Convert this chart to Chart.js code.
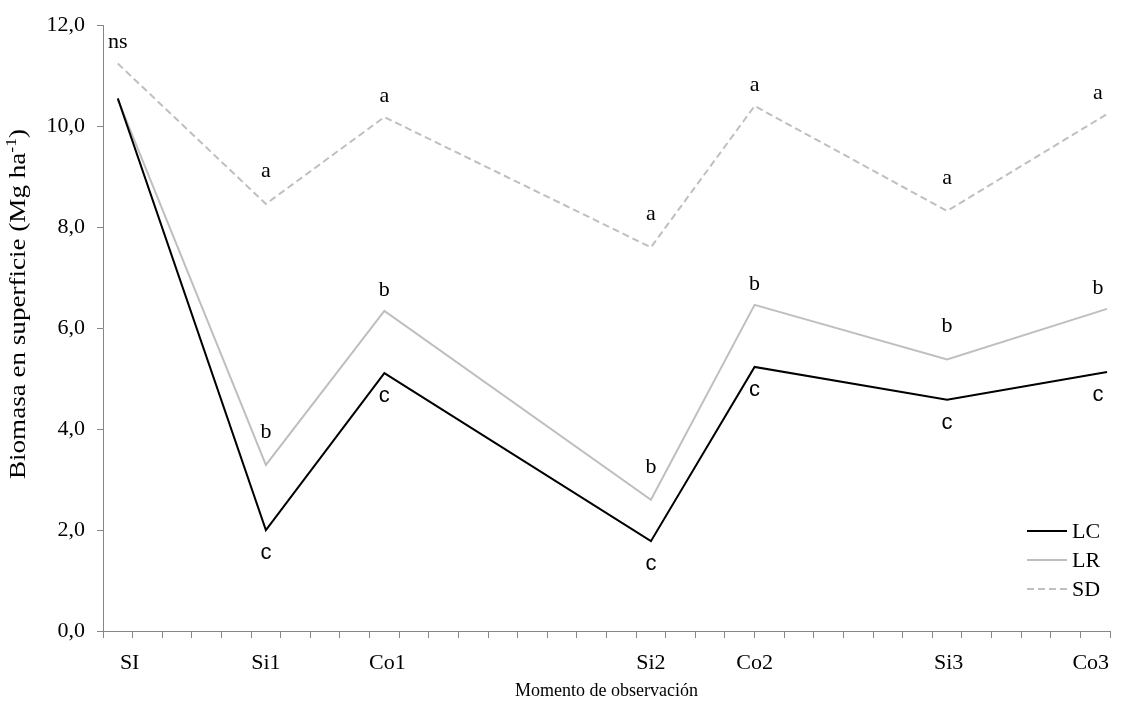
<!DOCTYPE html>
<html>
<head>
<meta charset="utf-8">
<script src="https://cdn.jsdelivr.net/npm/chart.js@4.4.1/dist/chart.umd.min.js"></script>
<style>
  html, body { margin: 0; padding: 0; background: #fff; }
</style>
</head>
<body>
<canvas id="biomasa" width="1125" height="702"></canvas>
<script>
// Momentos de observación sobre el eje temporal
const momentos = ['SI', 'Si1', 'Co1', 'Si2', 'Co2', 'Si3', 'Co3'];
const posMomentos = [0.5, 5.5, 9.5, 18.5, 22, 28.5, 33.9];
const posEtiquetas = [0.9, 5.5, 9.6, 18.5, 22, 28.55, 33.35];

// Biomasa en superficie (Mg ha-1) por tratamiento
const lc = [10.55, 2.0, 5.11, 1.78, 5.23, 4.58, 5.13];
const lr = [10.53, 3.29, 6.34, 2.6, 6.46, 5.38, 6.38];
const sd = [11.24, 8.46, 10.18, 7.6, 10.4, 8.32, 10.24];

// Letras de comparación de medias
const letrasLC = ['', 'c', 'c', 'c', 'c', 'c', 'c'];
const letrasLR = ['', 'b', 'b', 'b', 'b', 'b', 'b'];
const letrasSD = ['ns', 'a', 'a', 'a', 'a', 'a', 'a'];

const serif = '"Liberation Serif", "Times New Roman", serif';
const sans = '"Liberation Sans", Arial, sans-serif';
const gris = '#bfbfbf';
const ejeColor = '#868686';

function puntos(valores) {
  return valores.map((v, i) => ({ x: posMomentos[i], y: v }));
}

// letras, leyenda, nombres de momentos y títulos de ejes
const anotaciones = {
  id: 'anotaciones',
  afterDatasetsDraw(chart) {
    const { ctx, chartArea, scales } = chart;
    ctx.save();
    ctx.fillStyle = '#000';
    ctx.textAlign = 'center';
    ctx.textBaseline = 'middle';
    chart.data.datasets.forEach(ds => {
      ctx.font = '22px ' + ds.fuenteLetras;
      ds.data.forEach((p, i) => {
        const txt = ds.letras[i];
        if (!txt) return;
        let px = scales.x.getPixelForValue(p.x);
        const py = scales.y.getPixelForValue(p.y);
        px = Math.min(px, chartArea.right - 12);
        let dy;
        if (ds.lado === 'abajo') {
          dy = 23;
        } else {
          const prev = ds.data[i - 1], next = ds.data[i + 1];
          const valle = prev && next && p.y < prev.y && p.y < next.y;
          // los valles poco profundos quedan más cerca de la línea
          const hondo = valle && (next.x - p.x) < 6;
          dy = hondo ? -33 : -21;
        }
        ctx.fillText(txt, px, py + dy);
      });
    });
    ctx.restore();
  },
  afterDraw(chart) {
    const { ctx, chartArea, scales } = chart;
    ctx.save();
    ctx.fillStyle = '#000';

    // nombres de los momentos
    ctx.font = '22px ' + serif;
    ctx.textAlign = 'center';
    ctx.textBaseline = 'alphabetic';
    momentos.forEach((m, i) => {
      ctx.fillText(m, scales.x.getPixelForValue(posEtiquetas[i]), chartArea.bottom + 38);
    });

    // título eje x
    ctx.font = '18px ' + serif;
    ctx.fillText('Momento de observación', (chartArea.left + chartArea.right) / 2, chartArea.bottom + 65);

    // título eje y con superíndice, estirado a lo largo
    ctx.translate(25, 304);
    ctx.rotate(-Math.PI / 2);
    const base = 'Biomasa en superficie (Mg ha';
    ctx.font = '23px ' + serif;
    const w1 = ctx.measureText(base).width;
    ctx.font = '15px ' + serif;
    const w2 = ctx.measureText('-1').width;
    ctx.font = '23px ' + serif;
    const w3 = ctx.measureText(')').width;
    const total = w1 + w2 + w3;
    ctx.scale(350 / total, 1);
    const x0 = -total / 2;
    ctx.textAlign = 'left';
    ctx.fillText(base, x0, 0);
    ctx.font = '15px ' + serif;
    ctx.fillText('-1', x0 + w1, -9);
    ctx.font = '23px ' + serif;
    ctx.fillText(')', x0 + w1 + w2, 0);
    ctx.restore();

    // leyenda
    ctx.save();
    ctx.font = '22px ' + serif;
    ctx.textAlign = 'left';
    ctx.textBaseline = 'middle';
    chart.data.datasets.forEach((ds, i) => {
      const y = chartArea.bottom - 100 + i * 29;
      ctx.strokeStyle = ds.borderColor;
      ctx.lineWidth = ds.borderWidth;
      ctx.setLineDash(ds.borderDash || []);
      ctx.beginPath();
      ctx.moveTo(chartArea.right - 83, y);
      ctx.lineTo(chartArea.right - 43, y);
      ctx.stroke();
      ctx.fillStyle = '#000';
      ctx.fillText(ds.label, chartArea.right - 38, y + 1);
    });
    ctx.restore();
  }
};

const ctx = document.getElementById('biomasa').getContext('2d');
const grafico = new Chart(ctx, {
  type: 'line',
  data: {
    datasets: [
      { label: 'LC', data: puntos(lc), borderColor: '#000000', borderWidth: 2,
        letras: letrasLC, lado: 'abajo', fuenteLetras: sans },
      { label: 'LR', data: puntos(lr), borderColor: gris, borderWidth: 2,
        letras: letrasLR, lado: 'arriba', fuenteLetras: serif },
      { label: 'SD', data: puntos(sd), borderColor: gris, borderWidth: 2, borderDash: [7, 4],
        letras: letrasSD, lado: 'arriba', fuenteLetras: serif }
    ]
  },
  options: {
    responsive: false,
    animation: false,
    devicePixelRatio: 1,
    elements: { point: { radius: 0 }, line: { tension: 0 } },
    layout: { padding: { left: 0, right: 15, top: 18, bottom: 0 } },
    scales: {
      x: {
        type: 'linear', min: 0, max: 34,
        ticks: { stepSize: 1, autoSkip: false, maxRotation: 0, callback: () => '' },
        grid: { drawOnChartArea: false, tickLength: 7, color: ejeColor },
        border: { color: ejeColor },
        afterFit: s => { s.height = 71; }
      },
      y: {
        min: 0, max: 12,
        ticks: {
          stepSize: 2, padding: 12, color: '#000',
          font: { family: serif, size: 22 },
          callback: v => v.toFixed(1).replace('.', ',')
        },
        grid: { drawOnChartArea: false, tickLength: 6, color: ejeColor },
        border: { color: ejeColor },
        afterFit: s => { s.width = 103; }
      }
    },
    plugins: { legend: { display: false }, tooltip: { enabled: false } }
  },
  plugins: [anotaciones]
});
</script>
</body>
</html>
